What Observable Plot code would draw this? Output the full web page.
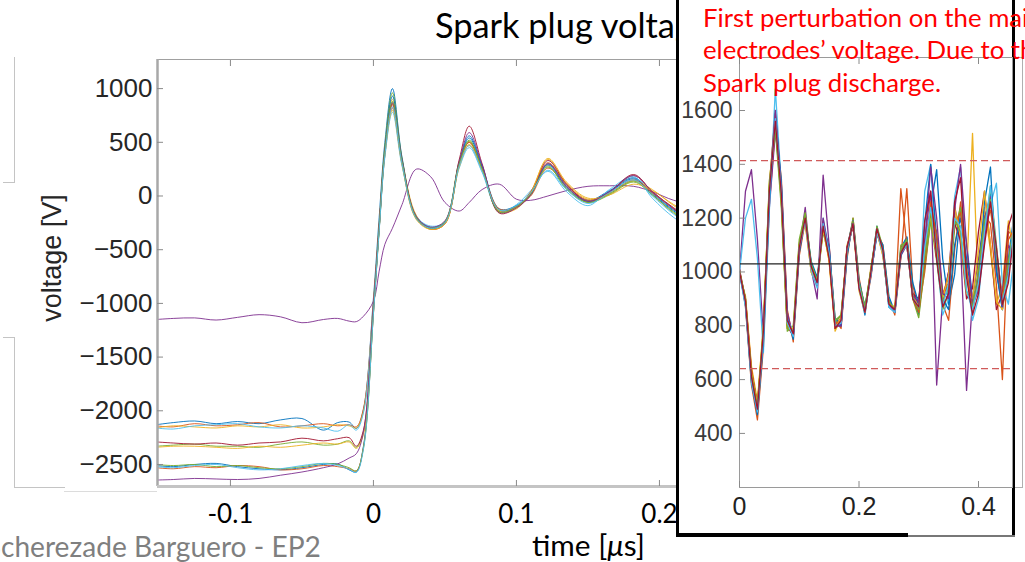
<!DOCTYPE html>
<html><head><meta charset="utf-8">
<script src="https://cdn.jsdelivr.net/npm/d3@7"></script>
<script src="https://cdn.jsdelivr.net/npm/@observablehq/plot@0.6"></script>
<style>
html,body{margin:0;padding:0;background:#fff;overflow:hidden;}
#page{position:relative;width:1025px;height:562px;overflow:hidden;background:#fff;}
.abs{position:absolute;}
svg.ov{position:absolute;left:0;top:0;overflow:visible;pointer-events:none;}
</style></head>
<body><div id="page"></div>
<script>
// ---------------- data ----------------
const colors = ["#0072BD","#D95319","#EDB120","#7E2F8E","#77AC30","#4DBEEE","#A2142F"];

// main chart: time [us] and voltage traces [V]
const mainTime = [-0.152,-0.14,-0.125,-0.11,-0.095,-0.08,-0.065,-0.05,-0.035,-0.025,-0.017,-0.012,-0.007,
  0,0.004,0.008,0.0133,0.02,0.03,0.04,0.05,0.06,0.067,0.076,0.088,0.1,0.11,0.122,0.135,0.15,0.165,0.182,0.195,0.21,0.225];
const mainTraces = [
  [-2130,-2110,-2095,-2120,-2100,-2120,-2085,-2072,-2180,-2110,-2105,-2165,-1990, -950,-200,500,1000,360,-190,-290,-240,310,560,280,-120,-90,20,300,100,-40,50,170,30,-130,-230],
  [-2140,-2150,-2120,-2140,-2130,-2110,-2150,-2140,-2120,-2140,-2130,-2150,-1980, -1000,-300,380,820,300,-210,-300,-250,300,500,250,-150,-100,0,260,90,-60,30,190,40,-120,-260],
  [-2160,-2140,-2150,-2160,-2140,-2150,-2130,-2160,-2150,-2130,-2140,-2160,-2010, -980,-260,440,900,340,-180,-310,-260,280,470,240,-140,-120,40,340,120,-30,20,140,60,-90,-200],
  [-1150,-1140,-1135,-1155,-1130,-1105,-1125,-1180,-1150,-1140,-1165,-1170,-1120, -980,-700,-450,-300,-80,250,180,-60,-140,-60,60,110,-30,-40,0,50,90,95,90,40,-40,-80],
  [-2330,-2320,-2310,-2330,-2330,-2340,-2310,-2290,-2320,-2310,-2280,-2340,-2200, -1050,-300,460,960,350,-200,-300,-240,320,520,260,-130,-100,10,280,60,-60,10,130,10,-160,-280],
  [-2160,-2170,-2140,-2130,-2120,-2150,-2160,-2140,-2160,-2190,-2130,-2180,-2020, -1000,-320,360,780,280,-190,-280,-240,260,450,220,-150,-80,50,230,40,-90,60,180,-20,-200,-320],
  [-2290,-2300,-2310,-2300,-2320,-2300,-2290,-2255,-2280,-2260,-2250,-2330,-2180, -1020,-280,420,860,330,-200,-300,-250,340,650,300,-160,-110,20,330,110,-50,40,200,40,-110,-240],
  [-2510,-2520,-2500,-2490,-2520,-2540,-2550,-2530,-2500,-2495,-2550,-2570,-2330, -1080,-300,430,930,340,-210,-300,-250,300,540,270,-140,-90,30,290,80,-50,40,160,20,-140,-250],
  [-2530,-2540,-2520,-2530,-2510,-2520,-2550,-2540,-2510,-2520,-2540,-2560,-2340, -1100,-320,400,850,310,-200,-310,-260,290,500,250,-120,-100,40,310,110,-40,30,150,30,-120,-270],
  [-2340,-2330,-2330,-2340,-2350,-2330,-2340,-2320,-2300,-2310,-2290,-2350,-2220, -1040,-310,380,800,290,-220,-310,-260,270,480,240,-140,-110,30,350,130,-20,10,110,50,-80,-190],
  [-2645,-2640,-2630,-2635,-2640,-2630,-2600,-2570,-2530,-2495,-2440,-2400,-2200, -1020,-290,420,870,330,-190,-290,-230,320,590,290,-150,-110,10,300,90,-50,40,190,40,-120,-250],
  [-2500,-2510,-2500,-2520,-2510,-2530,-2540,-2520,-2490,-2500,-2530,-2560,-2350, -1090,-310,420,880,320,-200,-300,-240,300,510,250,-150,-100,20,270,70,-60,20,140,10,-150,-270],
  [-2520,-2530,-2510,-2500,-2530,-2550,-2540,-2510,-2490,-2510,-2545,-2575,-2360, -1100,-330,380,830,300,-210,-300,-250,280,470,230,-130,-90,30,240,60,-70,30,150,0,-170,-300]
];
const mainXDomain = [-0.151, 0.4385];
const mainYDomain = [-2705, 1271];
const mainXTicks = [-0.1, 0, 0.1, 0.2];
const mainYTicks = [-2500, -2000, -1500, -1000, -500, 0, 500, 1000];

// inset chart: time [us] and voltage traces [V]
const insetTime = [0,0.01,0.02,0.03,0.04,0.05,0.06,0.07,0.08,0.09,0.1,0.11,0.12,0.13,0.14,0.15,0.16,0.17,0.18,0.19,
  0.2,0.21,0.22,0.23,0.24,0.25,0.26,0.27,0.28,0.29,0.3,0.31,0.32,0.33,0.34,0.35,0.36,0.37,0.38,0.39,0.4,0.41,0.42,0.43,0.44,0.45,0.46];
const insetTraces = [
  [1000,890,610,480,760,1290,1580,1300,810,770,1090,1210,1010,950,1190,1070,790,810,1090,1190,940,840,1010,1170,1070,870,850,1090,1130,910,840,1060,1240,1380,1050,880,990,1230,1110,900,960,1180,1290,1010,860,1050,1220],
  [1010,870,580,450,720,1250,1540,1350,860,740,1060,1190,1030,970,1160,1100,820,790,1050,1200,980,860,980,1150,1100,900,840,1050,1310,950,860,1000,1200,1150,880,820,1080,1260,1000,850,1000,1210,1180,950,600,1150,1130],
  [990,910,650,520,800,1320,1600,1260,790,790,1110,1180,1000,950,1170,1040,780,830,1100,1170,930,850,1020,1150,1060,880,870,1070,1100,900,870,1080,1260,1090,920,980,1210,1140,980,1515,900,1240,1080,880,950,1190,1060],
  [1000,1300,1380,1120,760,1240,1520,1330,850,760,1080,1240,1010,900,1360,1100,800,800,1070,1180,950,860,990,1140,1080,880,860,1060,1100,920,880,1120,1300,580,900,1000,1250,1100,560,900,1050,1200,1280,1000,880,1100,1060],
  [1005,880,600,500,790,1340,1530,1240,780,800,1120,1220,1030,960,1150,1050,810,840,1080,1200,960,870,1000,1170,1090,890,850,1100,1110,900,830,1020,1190,1040,860,920,1160,1240,1000,870,940,1130,1320,1100,880,980,1200],
  [1000,1200,1270,1050,700,1230,1680,1320,820,780,1090,1200,1000,940,1200,1080,800,810,1070,1190,940,850,1000,1160,1070,870,850,1080,1120,910,860,1300,1400,1060,840,900,1280,1390,1000,820,900,1120,1250,1330,950,880,1060],
  [1010,900,630,510,770,1300,1570,1290,800,760,1100,1190,1020,960,1180,1060,790,820,1090,1170,950,860,1010,1150,1080,880,860,1070,1120,920,900,1110,1230,1050,880,1000,1180,1120,900,940,1150,1300,1100,860,920,1170,1240],
  [995,880,590,470,740,1270,1590,1330,830,750,1070,1200,1040,980,1170,1090,830,800,1060,1190,970,870,990,1140,1100,910,850,1060,1130,960,880,1180,1400,1120,900,860,1100,1200,1050,880,980,1260,1390,1000,860,1020,1180],
  [1000,900,640,500,780,1310,1550,1270,800,770,1090,1190,1010,950,1190,1050,800,830,1080,1180,950,850,1000,1160,1070,880,860,1310,1100,900,850,1030,1260,1130,920,960,1180,1220,1010,860,970,1160,1230,1080,900,1120,1160],
  [1000,890,620,510,800,1330,1580,1270,790,790,1100,1180,1000,960,1160,1040,790,830,1090,1180,950,850,1010,1150,1060,880,870,1080,1110,910,870,1070,1210,1060,900,990,1240,1130,920,900,1080,1300,1100,890,860,1000,1210],
  [1000,880,600,490,770,1310,1600,1310,820,770,1080,1200,1020,950,1200,1070,800,800,1090,1190,950,860,1000,1160,1080,880,850,1080,1110,910,890,1100,1390,1200,920,900,1230,1400,1100,880,930,1120,1280,1050,870,1000,1150],
  [1005,900,620,500,790,1320,1540,1260,790,780,1100,1210,1030,970,1170,1060,820,840,1080,1190,960,870,1010,1160,1080,890,860,1080,1120,910,860,1060,1220,1080,890,940,1190,1150,930,870,1010,1190,1270,1060,880,1040,1180],
  [995,870,590,480,760,1290,1570,1300,810,760,1090,1190,1010,950,1180,1070,800,810,1080,1180,950,850,990,1150,1070,870,850,1070,1100,900,870,1090,1240,1070,870,960,1200,1170,930,860,960,1150,1320,1080,890,990,1200],
  [1000,890,610,490,780,1300,1560,1290,820,770,1090,1200,1020,960,1170,1050,790,820,1090,1180,940,850,1000,1160,1080,880,860,1070,1110,900,870,1190,1300,1050,870,920,1260,1350,980,840,920,1100,1260,1090,880,960,1160]
];
const insetMean = 1030;
const insetLimits = [1414, 641];
const insetXDomain = [0, 0.4569];
const insetYDomain = [199, 1797];
const insetXTicks = [0, 0.2, 0.4];
const insetYTicks = [400, 600, 800, 1000, 1200, 1400, 1600];

const titleText = "Spark plug voltage";
const xLabelText = ["time [", "μ", "s]"];
const yLabelText = "voltage [V]";
const footerText = "Scherezade Barguero - EP2";
const noteLines = ["First perturbation on the main", "electrodes’ voltage. Due to the", "Spark plug discharge."];

// ---------------- build ----------------
const page = document.getElementById("page");
const NS = "http://www.w3.org/2000/svg";
function box(x, y, w, h, bg, extra) {
  const d = document.createElement("div");
  d.className = "abs";
  Object.assign(d.style, {left: x + "px", top: y + "px", width: w + "px", height: h + "px", background: bg}, extra || {});
  page.appendChild(d);
  return d;
}
const plain = d => String(d);
const matlabNum = d => String(d).replace("-", "\u2212");
const blank = () => "";

const mainRows = mainTraces.flatMap((vals, k) => vals.map((v, i) => ({t: mainTime[i], v, k, c: colors[k % 7]})));
const mainPlot = Plot.plot({
  width: 1025, height: 562,
  marginLeft: 157, marginRight: 25, marginTop: 59, marginBottom: 76,
  x: {domain: mainXDomain},
  y: {domain: mainYDomain},
  style: {background: "transparent", overflow: "visible"},
  marks: [
    Plot.line(mainRows, {x: "t", y: "v", z: "k", stroke: "c", strokeWidth: 0.9, curve: "catmull-rom", clip: true}),
    Plot.frame({stroke: "#a0a0a0"}),
    Plot.ruleX([mainXDomain[0]], {stroke: "#a8a8a8", strokeWidth: 2.5}),
    Plot.ruleY([mainYDomain[0]], {stroke: "#c4c4c4", strokeWidth: 3}),
    Plot.axisY({ticks: mainYTicks, tickSize: 0, tickPadding: 5, tickFormat: matlabNum, fontSize: 26, fontFamily: "Liberation Sans, Arial, sans-serif", fill: "#262626", label: null}),
    Plot.axisY({ticks: mainYTicks, tickSize: 6, dx: 6, tickFormat: blank, label: null, stroke: "#8a8a8a"}),
    Plot.axisX({anchor: "bottom", ticks: mainXTicks, tickSize: 0, tickPadding: 18, tickFormat: plain, fontSize: 26, fontFamily: "Lato, sans-serif", fill: "#000", label: null}),
    Plot.axisX({anchor: "bottom", ticks: mainXTicks, tickSize: 6, dy: -6, tickFormat: blank, label: null, stroke: "#8a8a8a"}),
    Plot.axisX({anchor: "top", ticks: mainXTicks, tickSize: 6, dy: 6, tickFormat: blank, label: null, stroke: "#8a8a8a"})
  ]
});
mainPlot.classList.add("abs");
mainPlot.style.left = "0px"; mainPlot.style.top = "0px";
page.appendChild(mainPlot);

// slide frame remnants at the left
box(14, 57, 1, 125, "#c4c4c4");
box(3, 182, 12, 1, "#c4c4c4");
box(3, 337, 12, 1, "#c4c4c4");
box(14, 337, 1, 150, "#c4c4c4");
box(14, 487, 51, 1, "#c4c4c4");
box(64, 491, 93, 1, "#dcdcdc");

// overlay texts (below inset)
const ov = document.createElementNS(NS, "svg");
ov.setAttribute("class", "ov"); ov.setAttribute("width", 1025); ov.setAttribute("height", 562);
page.appendChild(ov);
function addText(parent, str, x, y, size, family, fill, extra) {
  const t = document.createElementNS(NS, "text");
  t.setAttribute("x", x); t.setAttribute("y", y);
  t.setAttribute("font-size", size); t.setAttribute("font-family", family); t.setAttribute("fill", fill);
  if (extra) for (const k in extra) t.setAttribute(k, extra[k]);
  if (Array.isArray(str)) {
    str.forEach((s, i) => { const ts = document.createElementNS(NS, "tspan"); ts.textContent = s; if (i === 1) ts.setAttribute("font-style", "italic"); t.appendChild(ts); });
  } else t.textContent = str;
  parent.appendChild(t);
  return t;
}
function fit(t, target, start, n) {
  const total = t.getNumberOfChars();
  const w = t.getSubStringLength(start || 0, n || (total - (start || 0)));
  const fs = parseFloat(t.getAttribute("font-size"));
  if (w > 0) t.setAttribute("font-size", (fs * target / w).toFixed(2));
  return parseFloat(t.getAttribute("font-size"));
}
const title = addText(ov, titleText, 435, 38, 29, "Lato, sans-serif", "#000");
fit(title, 240, 0, 16);
const xl = addText(ov, xLabelText, 532, 556, 26, "Lato, sans-serif", "#000");
fit(xl, 113);
const foot = addText(ov, footerText, 0, 557, 26, "Lato, sans-serif", "#7f7f7f");
fit(foot, 320, 1);
foot.setAttribute("x", (1 - foot.getSubStringLength(0, 1)).toFixed(1));
addText(ov, yLabelText, 0, 0, 27, "Liberation Sans, Arial, sans-serif", "#262626",
  {"text-anchor": "middle", transform: "translate(61,258) rotate(-90)"});

// inset box
box(676, -10, 339, 547, "#fff", {boxSizing: "border-box", borderLeft: "3px solid #000", borderRight: "3px solid #000"});
box(676, 533, 232, 4, "#000");
box(908, 535, 107, 2, "#777");
box(1022, 57, 1, 430, "#b0b0b0");
box(1015, 57, 8, 1, "#b0b0b0");
box(1015, 487, 8, 1, "#b0b0b0");

const insetRows = insetTraces.flatMap((vals, k) => vals.map((v, i) => ({t: insetTime[i], v, k, c: colors[k % 7]})));
const insetPlot = Plot.plot({
  width: 333, height: 533,
  marginLeft: 60, marginRight: 0, marginTop: 57, marginBottom: 46,
  x: {domain: insetXDomain},
  y: {domain: insetYDomain},
  style: {background: "transparent", overflow: "visible"},
  marks: [
    Plot.line(insetRows, {x: "t", y: "v", z: "k", stroke: "c", strokeWidth: 1.3, clip: true}),
    Plot.ruleY([insetMean], {stroke: "#222", strokeWidth: 1.3}),
    Plot.ruleY(insetLimits, {stroke: "#d05a5a", strokeDasharray: "7,4", strokeWidth: 1.2}),
    Plot.frame({stroke: "#9a9a9a"}),
    Plot.axisY({ticks: insetYTicks, tickSize: 0, tickPadding: 7, tickFormat: plain, fontSize: 23, fontFamily: "Liberation Sans, Arial, sans-serif", fill: "#3a3a3a", label: null}),
    Plot.axisY({ticks: insetYTicks, tickSize: 6, dx: 6, tickFormat: blank, label: null, stroke: "#8a8a8a"}),
    Plot.axisX({anchor: "bottom", ticks: insetXTicks, tickSize: 0, tickPadding: 10, tickFormat: plain, fontSize: 25, fontFamily: "Liberation Sans, Arial, sans-serif", fill: "#222", label: null}),
    Plot.axisX({anchor: "bottom", ticks: insetXTicks, tickSize: 6, dy: -6, tickFormat: blank, label: null, stroke: "#8a8a8a"}),
    Plot.axisX({anchor: "top", ticks: insetXTicks, tickSize: 6, dy: 6, tickFormat: blank, label: null, stroke: "#8a8a8a"})
  ]
});
insetPlot.classList.add("abs");
insetPlot.style.left = "679px"; insetPlot.style.top = "0px";
page.appendChild(insetPlot);

// red annotation on top
const ov2 = document.createElementNS(NS, "svg");
ov2.setAttribute("class", "ov"); ov2.setAttribute("width", 1025); ov2.setAttribute("height", 562);
page.appendChild(ov2);
const noteY = [27, 59, 92];
const notes = noteLines.map((s, i) => addText(ov2, s, 703, noteY[i], 25, "Lato, sans-serif", "#ff0000"));
const nfs = fit(notes[2], 238);
notes.forEach(n => n.setAttribute("font-size", nfs));
</script>
</body></html>
